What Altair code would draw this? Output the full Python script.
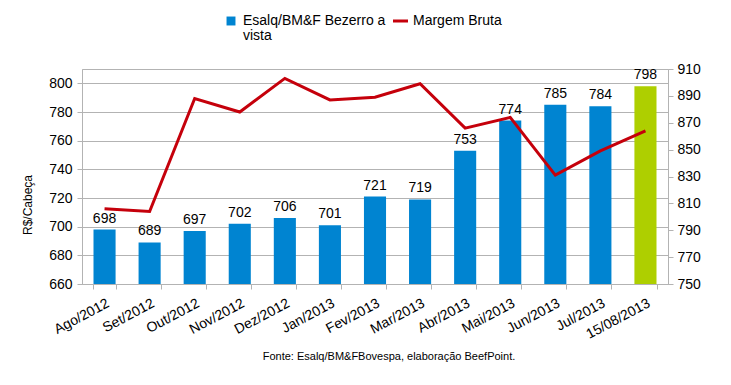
import altair as alt
import pandas as pd

meses = ["Ago/2012", "Set/2012", "Out/2012", "Nov/2012", "Dez/2012", "Jan/2013",
         "Fev/2013", "Mar/2013", "Abr/2013", "Mai/2013", "Jun/2013", "Jul/2013", "15/08/2013"]
bezerro = [698, 689, 697, 702, 706, 701, 721, 719, 753, 774, 785, 784, 798]
margem = [806, 804, 888, 878, 903, 887, 889, 899, 866, 874, 831, 849, 864]

left_ticks = [660, 680, 700, 720, 740, 760, 780, 800]
right_ticks = [750, 770, 790, 810, 830, 850, 870, 890, 910]

FONT = "Liberation Sans"
BLUE = "#0084D1"
GREEN = "#AECF00"
RED = "#C5000B"
GRAY = "#b3b3b3"

df = pd.DataFrame({"mes": meses, "bezerro": bezerro, "margem": margem})
one = pd.DataFrame({"k": [0]})

x = alt.X("mes:N", sort=meses, title=None,
          scale=alt.Scale(paddingInner=0.51, paddingOuter=0.255),
          axis=alt.Axis(labelAngle=-28, labelAlign="right", labelBaseline="top",
                        tickBand="extent", tickSize=5, labelPadding=7, labelLimit=300,
                        domainColor=GRAY, tickColor=GRAY))

yl = alt.Y("bezerro:Q", title=None,
           scale=alt.Scale(domain=[660, 810], nice=False, zero=False),
           axis=alt.Axis(values=left_ticks, grid=True, gridColor=GRAY, tickSize=5,
                         labelPadding=5, domainColor=GRAY, tickColor=GRAY))

bars = alt.Chart(df).mark_bar(clip=True).encode(
    x=x, y=yl,
    color=alt.condition(alt.datum.mes == "15/08/2013", alt.value(GREEN), alt.value(BLUE)),
)
labels = alt.Chart(df).mark_text(font=FONT, fontSize=14, baseline="alphabetic", dy=-7,
                                 color="#000000").encode(
    x=alt.X("mes:N", sort=meses),
    y=yl,
    text=alt.Text("bezerro:Q"),
)
left = alt.layer(bars, labels)

line = alt.Chart(df).mark_line(color=RED, strokeWidth=3).encode(
    x=alt.X("mes:N", sort=meses),
    y=alt.Y("margem:Q", title=None,
            scale=alt.Scale(domain=[750, 910], nice=False, zero=False),
            axis=alt.Axis(values=right_ticks, orient="right", grid=False, tickSize=5,
                          labelPadding=4, domainColor=GRAY, tickColor=GRAY)),
)

# legend & annotations
leg_sq = alt.Chart(one).mark_square(color=BLUE, size=80, opacity=1).encode(
    x=alt.value(149), y=alt.value(-48))
leg_t1 = alt.Chart(one).mark_text(font=FONT, fontSize=14, align="left", baseline="middle",
                                  color="#000000", text="Esalq/BM&F Bezerro a").encode(
    x=alt.value(161), y=alt.value(-48))
leg_t2 = alt.Chart(one).mark_text(font=FONT, fontSize=14, align="left", baseline="middle",
                                  color="#000000", text="vista").encode(
    x=alt.value(161), y=alt.value(-33))
leg_line = alt.Chart(one).mark_rule(color=RED, strokeWidth=3).encode(
    x=alt.value(311), x2=alt.value(326), y=alt.value(-48))
leg_t3 = alt.Chart(one).mark_text(font=FONT, fontSize=14, align="left", baseline="middle",
                                  color="#000000", text="Margem Bruta").encode(
    x=alt.value(331), y=alt.value(-48))
ytitle = alt.Chart(one).mark_text(font=FONT, fontSize=12, angle=270, align="center",
                                  baseline="middle", color="#000000", text="R$/Cabeça").encode(
    x=alt.value(-54), y=alt.value(136))
fonte = alt.Chart(one).mark_text(font=FONT, fontSize=11, align="center", baseline="middle",
                                 color="#000000",
                                 text="Fonte: Esalq/BM&FBovespa, elaboração BeefPoint.").encode(
    x=alt.value(307), y=alt.value(288))

chart = alt.layer(left, line, leg_sq, leg_t1, leg_t2, leg_line, leg_t3, ytitle, fonte).resolve_scale(
    y="independent"
).properties(
    width=586, height=215,
    padding={"left": 74, "top": 61, "right": 50, "bottom": 90},
    autosize=alt.AutoSizeParams(type="none"),
    background="white",
).configure_view(stroke=GRAY).configure_axis(
    labelFont=FONT, labelFontSize=14, labelColor="#000000"
)

chart.save("out.html", embed_options={"renderer": "svg", "actions": False})
